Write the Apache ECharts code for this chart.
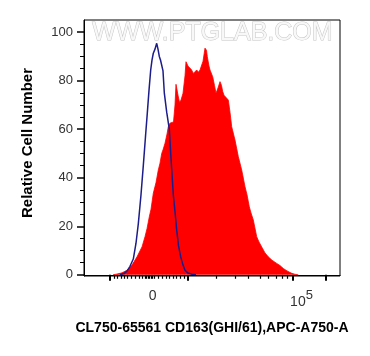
<!DOCTYPE html>
<html>
<head>
<meta charset="utf-8">
<script src="https://cdn.jsdelivr.net/npm/echarts@6/dist/echarts.min.js"></script>
<style>
html,body{margin:0;padding:0;background:#fff;}
#c{width:370px;height:356px;}
</style>
</head>
<body>
<div id="c"></div>
<script>
// channel units along the x axis (0..256 display channels of the biexponential scale)
var redCh  = [29,33,38,43,48,53,58,61,63,65.3,67,69.3,72,74.3,76,77.7,79,81,83,84.3,86,88,89.5,91,92,93,94,95.5,97,99,101,102,103,104,106,107.5,109.3,111,112.7,114.5,116,117.7,119,121,122.5,123.3,125,126,128.7,130.5,132,134,136,137.5,138.7,140,142,144.3,146,147.7,149.5,151,154.3,157.7,161,163,165.3,167,169.3,172.7,175,177.7,181,184.3,188,192.7,196,199.3,203,207.7,211,214.3];
var redVal = [0,0.3,0.8,1.9,4,7.4,11.5,15.7,19,23.9,27,33.6,38,43.2,46,50,51.5,54.2,58,61,62.5,62.4,63,70,78.5,78,74,71,72,74.8,82,87.8,87,86,85.8,84.5,83,83.5,84.4,83.5,84.4,85.1,88,93.4,92.5,89.9,86,84.4,81.6,78,74.8,77,79.6,78,75.5,74,73.4,72,67,61,58,55.5,48.7,43.2,36.3,33,28,25.5,22.6,15.7,13.5,11.5,9,7.4,6,4.7,3.8,2.6,1.6,0.6,0.2,0];
var blueCh  = [36,40,43,46,49.3,52,54.3,57,59.3,61.5,63.3,65,66.7,68,69.3,71,72.7,74,75.3,76.5,77.7,79,80.3,82.7,85.3,87,89.3,91,92.7,94.5,96.7,99,101,104,108,112];
var blueVal = [0,0.5,1.5,3.5,6.5,13,21,33,45,57,66.6,76,84.4,88.5,91.3,93,95.4,93,90,88.5,88.5,84,75,67,60,48,33,26,18.4,12,7.4,4,1.9,0.7,0.2,0];

var xMajorTicks = [26,103.5,209,242];
var xMinorTicks = [30.3,33.7,37,40.3,43.7,47.7,51.3,55,58.7,61,62.5,64,65.5,67,68.5,70.7,74.7,78.3,82,85.3,89.3,92.7,96.3,100,132.7,151,164,176,184.5,192.7,198.7,203.3];
var xLabelValues = [68.7,209];
var xLabelTexts = ['0','{b|10}{s|5}'];
var yMajorTicks = [0,20,40,60,80,100];
var yMinorTicks = [5,10,15,25,30,35,45,50,55,65,70,75,85,90,95];

var FONT = '"Liberation Sans", Arial, sans-serif';

function pairs(xs, ys){ return xs.map(function(x,i){ return [x, ys[i]]; }); }

var chart = echarts.init(document.getElementById('c'), null, {renderer:'canvas'});
chart.setOption({
  animation:false,
  backgroundColor:'#fff',
  grid:{left:84, top:20, width:256, height:256, show:true, borderColor:'#000', borderWidth:1, backgroundColor:'transparent'},
  graphic:[{
    type:'text', x:212.5, y:33.5, z:-10, silent:true,
    style:{text:'WWW.PTGLAB.COM', font:'25px '+FONT, fill:'#f8f8f8', stroke:'#c6c6c6', lineWidth:1, align:'center', verticalAlign:'middle'}
  }],
  xAxis:[{
    type:'value', min:0, max:256, position:'bottom',
    name:'CL750-65561 CD163(GHI/61),APC-A750-A', nameLocation:'middle', nameGap:45,
    nameTextStyle:{fontFamily:FONT, fontSize:14, fontWeight:'bold', color:'#000'},
    axisLine:{show:true, lineStyle:{color:'#000', width:1}},
    splitLine:{show:false},
    axisTick:{show:true, customValues:xMajorTicks, length:6, lineStyle:{color:'#000', width:2}},
    axisLabel:{show:true, customValues:xLabelValues, margin:13, fontFamily:FONT, fontSize:14, color:'#333',
      formatter:function(v){ var i = xLabelValues.indexOf(v); return i>=0 ? xLabelTexts[i] : ''; },
      rich:{
        b:{fontFamily:FONT, fontSize:14, color:'#333', padding:[0,0,0,17]},
        s:{fontFamily:FONT, fontSize:13, color:'#333', padding:[0,0,14,0]}
      }}
  },{
    type:'value', min:0, max:256, position:'bottom',
    axisLine:{show:false}, splitLine:{show:false}, axisLabel:{show:false},
    axisTick:{show:true, customValues:xMinorTicks, length:4, lineStyle:{color:'#000', width:1.2}}
  }],
  yAxis:[{
    type:'value', min:-0.5, max:105, position:'left',
    name:'Relative Cell Number', nameLocation:'middle', nameGap:49,
    nameTextStyle:{fontFamily:FONT, fontSize:15, fontWeight:'bold', color:'#000', padding:[0,0,0,10]},
    axisLine:{show:true, lineStyle:{color:'#000', width:1}},
    splitLine:{show:false},
    axisTick:{show:true, customValues:yMajorTicks, length:7, lineStyle:{color:'#000', width:1.5}},
    axisLabel:{show:true, customValues:yMajorTicks, margin:11, fontFamily:FONT, fontSize:13, color:'#333'}
  },{
    type:'value', min:-0.5, max:105, position:'left',
    axisLine:{show:false}, splitLine:{show:false}, axisLabel:{show:false},
    axisTick:{show:true, customValues:yMinorTicks, length:4, lineStyle:{color:'#000', width:1}}
  }],
  series:[{
    type:'line', xAxisIndex:0, yAxisIndex:0, data:pairs(redCh, redVal),
    symbol:'none', smooth:false, lineStyle:{color:'#ff0000', width:0.8},
    areaStyle:{color:'#ff0000', opacity:1}, z:2
  },{
    type:'line', xAxisIndex:0, yAxisIndex:0, data:pairs(blueCh, blueVal),
    symbol:'none', smooth:false, lineStyle:{color:'#1c1c8a', width:1.5}, z:3
  }]
});
</script>
</body>
</html>
